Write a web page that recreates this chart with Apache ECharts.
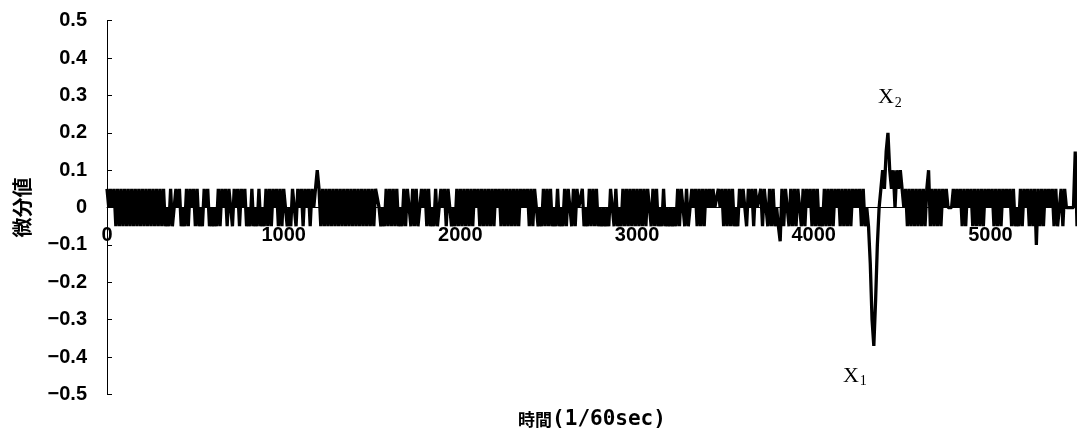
<!DOCTYPE html>
<html>
<head>
<meta charset="utf-8">
<script src="https://cdn.jsdelivr.net/npm/echarts@6/dist/echarts.min.js"></script>
<style>
html,body{margin:0;padding:0;background:#fff;}
#chart{width:1077px;height:435px;}
</style>
</head>
<body>
<div id="chart"></div>
<script>
const SAMPLE_STEP = 10;
const v0000 = [.05,0,.05,0,.05,
 -.05,.05,-.05,.05,-.05,.05,-.05,.05,-.05,.05,
 -.05,.05,-.05,.05,-.05,.05,-.05,.05,-.05,.05,
 -.05,.05,-.05,.05,-.05,.05,-.05,.05,-.05,
 0,-.05,.05,-.05,0,.05,0,.05,-.05,0,-.05,.05,-.05,.05,0,.05];
const v0500 = [-.05,.05,-.05,0,-.05,.05,0,.05,-.05,0,
 -.05,0,-.05,.05,-.05,.05,0,.05,-.05,.05,
 0,-.05,.05,0,.05,-.05,.05,0,.05,-.05,
 0,-.05,.05,-.05,0,-.05,.05,-.05,0,-.05,
 .05,-.05,.05,-.05,.05,0,.05,-.05,.05,-.05];
const v1000 = [.05,0,-.05,0,-.05,.05,0,-.05,.05,0,
 .05,-.05,.05,0,.05,-.05,.05,0,.05,.1,
 .05,-.05,.05,-.05,.05,-.05,.05,-.05,.05,-.05,
 .05,-.05,.05,-.05,.05,-.05,.05,-.05,.05,-.05,
 .05,-.05,.05,-.05,.05,-.05,.05,-.05,.05,-.05];
const v1500 = [.05,-.05,.05,.05,0,-.05,0,-.05,.05,-.05,
 .05,-.05,.05,-.05,.05,-.05,0,-.05,.05,-.05,
 .05,0,-.05,.05,-.05,.05,-.05,0,.05,0,
 .05,-.05,.05,-.05,0,-.05,.05,-.05,0,.05,
 0,.05,-.05,.05,0,-.05,0,-.05,.05,-.05];
const v2000 = [.05,-.05,.05,-.05,.05,-.05,.05,-.05,.05,0,
 .05,-.05,.05,-.05,.05,-.05,.05,-.05,.05,-.05,
 .05,0,.05,-.05,.05,-.05,.05,-.05,.05,-.05,
 .05,-.05,.05,-.05,.05,0,.05,0,.05,-.05,
 .05,-.05,.05,0,-.05,0,-.05,.05,-.05,.05];
const v2500 = [-.05,.05,-.05,0,-.05,.05,-.05,0,-.05,.05,
 -.05,.05,0,-.05,.05,-.05,.05,0,0,.05,
 -.05,0,-.05,.05,-.05,.05,-.05,.05,-.05,0,
 -.05,0,-.05,0,-.05,.05,0,-.05,.05,-.05,
 0,-.05,.05,-.05,.05,-.05,.05,-.05,.05,-.05];
const v3000 = [.05,-.05,.05,-.05,.05,-.05,.05,0,-.05,.05,
 -.05,.05,-.05,0,-.05,.05,-.05,0,-.05,0,
 -.05,0,-.05,.05,-.05,.05,0,-.05,.05,-.05,
 0,.05,0,.05,-.05,.05,-.05,.05,-.05,.05,
 0,.05,0,.05,0,0,.05,0,.05,-.05];
const v3500 = [.05,-.05,.05,-.05,.05,-.05,0,-.05,.05,0,
 .05,0,-.05,.05,0,.05,-.05,.05,0,0,
 .05,-.05,.05,0,-.05,.05,-.05,.05,-.05,0,
 -.05,-.09,.05,-.05,.05,0,-.05,.05,-.05,.05,
 -.05,.05,0,-.05,.05,-.05,.05,0,.05,-.05];
const v4000 = [.05,-.05,.05,-.05,0,-.05,.05,-.05,.05,-.05,
 .05,-.05,.05,0,.05,-.05,.05,-.05,.05,-.05,
 .05,-.05,.05,0,.05,0,.05,-.05,.05,-.05,
 0,-.05,-.15,-.3,-.37,-.25,-.1,0,.05,.1,
 .05,.15,.2,.1,.05,.1,0,.1,.05,.1];
const v4500 = [.05,0,.05,-.05,.05,-.05,.05,-.05,.05,-.05,
 .05,-.05,.05,-.05,.05,.1,-.05,.05,-.05,.05,
 -.05,.05,-.05,.05,0,.05,0,0,0,.05,
 0,.05,0,.05,-.05,.05,-.05,.05,0,.05,
 -.05,.05,-.05,.05,-.05,.05,-.05,.05,0,.05];
const v5000 = [0,.05,-.05,.05,-.05,.05,-.05,.05,0,.05,
 0,.05,-.05,.05,-.05,0,-.05,.05,-.05,.05,
 0,.05,-.05,.05,-.05,.05,-.1,.05,-.05,.05,
 -.05,.05,0,.05,0,.05,-.05,.05,-.05,0,
 .05,-.05,.05,0,0,0,0,0,.15,-.05];

const xTickValues = [0, 1000, 2000, 3000, 4000, 5000];
const yTickValues = [-0.5,-0.4,-0.3,-0.2,-0.1,0,0.1,0.2,0.3,0.4,0.5];

const values = [].concat(v0000, v0500, v1000, v1500, v2000, v2500, v3000, v3500, v4000, v4500, v5000);
const seriesData = values.map((v, i) => [i * SAMPLE_STEP, v]);

const GRID_TOP = 20.7, GRID_BOTTOM = 40.5, H = 435;
const Y_MIN = -0.5, Y_MAX = 0.5;
// distance from the grid bottom to the zero line, so the x axis sits on y = 0
const zeroOffset = -(H - GRID_TOP - GRID_BOTTOM) * (0 - Y_MIN) / (Y_MAX - Y_MIN);

const chart = echarts.init(document.getElementById('chart'), null, {renderer: 'canvas'});
const labelFont = {fontFamily: 'Liberation Sans', fontWeight: 'bold', fontSize: 20, color: '#000'};
const subRich = {
  x: {fontFamily: 'Liberation Serif', fontSize: 22, color: '#000', lineHeight: 30, verticalAlign: 'middle'},
  s: {fontFamily: 'Liberation Serif', fontSize: 14, color: '#000', lineHeight: 30, verticalAlign: 'bottom', padding: [0, 0, 2, 1]}
};
chart.setOption({
  animation: false,
  backgroundColor: '#fff',
  grid: {left: 107, right: 0, top: GRID_TOP, bottom: GRID_BOTTOM, containLabel: false, outerBoundsMode: 'none'},
  xAxis: {
    type: 'value', min: 0, max: 5490, interval: 1000,
    offset: zeroOffset,
    axisLine: {onZero: false, lineStyle: {color: '#000', width: 1}},
    axisTick: {show: false},
    splitLine: {show: false},
    axisLabel: Object.assign({margin: 18, showMaxLabel: false,
      formatter: v => xTickValues.indexOf(v) >= 0 ? String(v) : ''}, labelFont),
    name: '{c|時間}{l|(1/60sec)}',
    nameLocation: 'middle',
    nameGap: 201,
    nameTextStyle: {rich: {
      c: {fontFamily: 'Noto Sans CJK JP', fontWeight: 'bold', fontSize: 17, color: '#000'},
      l: {fontFamily: 'DejaVu Sans Mono', fontWeight: 'bold', fontSize: 21, color: '#000'}
    }}
  },
  yAxis: {
    type: 'value', min: Y_MIN, max: Y_MAX, interval: 0.1,
    axisLine: {show: true, onZero: false, lineStyle: {color: '#000', width: 1}},
    axisTick: {show: true, inside: true, length: 5, lineStyle: {color: '#000'}},
    splitLine: {show: false},
    axisLabel: Object.assign({margin: 20, showMinLabel: true, showMaxLabel: true,
      formatter: v => {
        const r = Math.round(v * 10) / 10;
        if (r === 0) return '0';
        return (r < 0 ? '\u2212' : '') + Math.abs(r).toFixed(1);
      }}, labelFont),
    name: '微分値',
    nameLocation: 'middle',
    nameGap: 75,
    nameTextStyle: {fontFamily: 'Noto Sans CJK JP', fontWeight: 'bold', fontSize: 20, color: '#000'}
  },
  series: [{
    type: 'line',
    data: seriesData,
    showSymbol: false,
    symbol: 'none',
    lineStyle: {color: '#000', width: 3.3},
    markPoint: {
      symbol: 'circle', symbolSize: 1,
      itemStyle: {color: 'rgba(0,0,0,0)'},
      label: {show: true, position: 'inside', rich: subRich},
      data: [
        {coord: [4431, 0.296], label: {formatter: '{x|X}{s|2}'}},
        {coord: [4233, -0.45], label: {formatter: '{x|X}{s|1}'}}
      ]
    }
  }]
});
</script>
</body>
</html>
